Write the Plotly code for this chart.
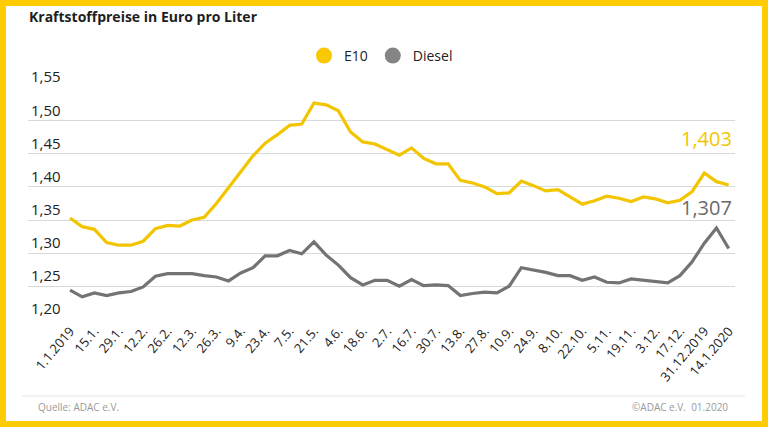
import plotly.graph_objects as go

tick_labels = ["1.1.2019", "15.1.", "29.1.", "12.2.", "26.2.", "12.3.", "26.3.", "9.4.",
               "23.4.", "7.5.", "21.5.", "4.6.", "18.6.", "2.7.", "16.7.", "30.7.",
               "13.8.", "27.8.", "10.9.", "24.9.", "8.10.", "22.10.", "5.11.", "19.11.",
               "3.12.", "17.12.", "31.12.2019", "14.1.2020"]

e10 = [1.353, 1.340, 1.336, 1.316, 1.312, 1.312, 1.318, 1.337, 1.342, 1.341,
       1.350, 1.354, 1.375, 1.400, 1.423, 1.447, 1.466, 1.479, 1.493, 1.495,
       1.527, 1.524, 1.515, 1.483, 1.468, 1.465, 1.457, 1.448, 1.459, 1.443,
       1.435, 1.435, 1.410, 1.406, 1.400, 1.390, 1.391, 1.409, 1.402, 1.394,
       1.396, 1.385, 1.374, 1.379, 1.386, 1.383, 1.378, 1.385, 1.382, 1.376,
       1.380, 1.393, 1.421, 1.408, 1.403]

diesel = [1.244, 1.234, 1.240, 1.236, 1.240, 1.242, 1.249, 1.265, 1.269, 1.269,
          1.269, 1.266, 1.264, 1.258, 1.270, 1.278, 1.296, 1.296, 1.304, 1.299,
          1.317, 1.297, 1.282, 1.263, 1.252, 1.259, 1.259, 1.250, 1.260, 1.251,
          1.252, 1.251, 1.236, 1.239, 1.241, 1.240, 1.250, 1.278, 1.275, 1.271,
          1.266, 1.266, 1.259, 1.264, 1.256, 1.255, 1.261, 1.259, 1.257, 1.255,
          1.266, 1.287, 1.315, 1.338, 1.307]

y_ticks = [1.20, 1.25, 1.30, 1.35, 1.40, 1.45, 1.50, 1.55]

weeks = list(range(len(e10)))
tick_pos = weeks[::2]

YELLOW = "#F2C500"
GREY = "#737373"
FONT = "Open Sans"

W, H = 768, 427
L, R, T, B = 28, 33, 87, 107
pw, ph = W - L - R, H - T - B


def px_x(p):
    return (p - L) / pw


def px_y(p):
    return (H - B - p) / ph


fig = go.Figure()
fig.add_trace(go.Scatter(x=weeks, y=e10, mode="lines", line=dict(color=YELLOW, width=3.2),
                         showlegend=False, hoverinfo="skip"))
fig.add_trace(go.Scatter(x=weeks, y=diesel, mode="lines", line=dict(color=GREY, width=3.2),
                         showlegend=False, hoverinfo="skip"))
fig.add_trace(go.Scatter(x=[None], y=[None], mode="markers", name="E10",
                         marker=dict(color="#F8C800", size=16)))
fig.add_trace(go.Scatter(x=[None], y=[None], mode="markers", name="Diesel",
                         marker=dict(color="#858585", size=16)))

fig.add_annotation(x=weeks[-1], y=e10[-1], xref="x", yref="y", text="1,403",
                   showarrow=False, xanchor="right", yanchor="bottom", yshift=31, xshift=5,
                   font=dict(family=FONT, size=20, color=YELLOW))
fig.add_annotation(x=weeks[-1], y=diesel[-1], xref="x", yref="y", text="1,307",
                   showarrow=False, xanchor="right", yanchor="bottom", yshift=26, xshift=5,
                   font=dict(family=FONT, size=20, color="#6a6a6a"))

# title and footer
fig.add_annotation(x=px_x(27), y=px_y(16), xref="paper", yref="paper", xanchor="left",
                   yanchor="middle", showarrow=False,
                   text="<b>Kraftstoffpreise in Euro pro Liter</b>",
                   font=dict(family=FONT, size=14, color="#1e1e1e"))
fig.add_annotation(x=px_x(36), y=px_y(407), xref="paper", yref="paper", xanchor="left",
                   yanchor="middle", showarrow=False, text="Quelle: ADAC e.V.",
                   font=dict(family=FONT, size=10, color="#9a9a9a"))
fig.add_annotation(x=px_x(730), y=px_y(407), xref="paper", yref="paper", xanchor="right",
                   yanchor="middle", showarrow=False, text="©ADAC e.V.  01.2020",
                   font=dict(family=FONT, size=10, color="#9a9a9a"))

# white card inside yellow frame, footer separator
fig.add_shape(type="rect", xref="paper", yref="paper", layer="below",
              x0=px_x(6), x1=px_x(762), y0=px_y(421), y1=px_y(6),
              fillcolor="white", line=dict(width=0))
fig.add_shape(type="line", xref="paper", yref="paper", layer="below",
              x0=px_x(22), x1=px_x(745), y0=px_y(396), y1=px_y(396),
              line=dict(color="#e6e6e6", width=1))

x_left = -(70 - L) / ((728.7 - 70) / 54)
x_right = 54 + (W - R - 728.7) / ((728.7 - 70) / 54)

fig.update_layout(
    width=W, height=H,
    margin=dict(l=L, r=R, t=T, b=B, autoexpand=False),
    paper_bgcolor="#FFCC00",
    plot_bgcolor="rgba(0,0,0,0)",
    separators=",.",
    font=dict(family=FONT, color="#222222"),
    legend=dict(orientation="h", x=px_x(381), xanchor="center", y=px_y(56), yanchor="middle",
                font=dict(family=FONT, size=14, color="#222222"), bgcolor="rgba(0,0,0,0)"),
    xaxis=dict(range=[x_left, x_right], tickvals=tick_pos, ticktext=tick_labels,
               tickangle=-50, showgrid=False, zeroline=False, showline=False, ticks="",
               automargin=False,
               tickfont=dict(family=FONT, size=13, color="#222222")),
    yaxis=dict(range=[1.199, 1.551], tickvals=y_ticks, tickformat=".2f",
               ticklabelposition="inside top", ticklabeloverflow="allow",
               showgrid=True, gridcolor="#d9d9d9", gridwidth=1, zeroline=False,
               showline=False, ticks="", automargin=False,
               tickfont=dict(family=FONT, size=15, color="#222222")),
)

fig.write_html("out.html", config={"displayModeBar": False},
               post_script="document.body.style.margin='0';document.body.style.overflow='hidden';")
